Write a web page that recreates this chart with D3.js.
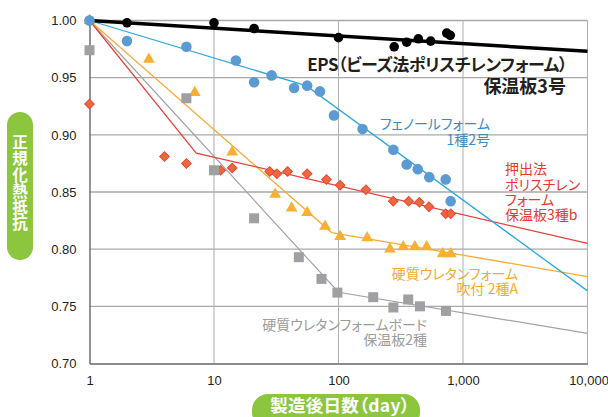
<!DOCTYPE html>
<html><head><meta charset="utf-8">
<script src="https://cdn.jsdelivr.net/npm/d3@7/dist/d3.min.js"></script>
<style>
html,body{margin:0;padding:0;background:#fff;}
svg{display:block;}
.jp{font-feature-settings:"palt" 1;}
</style></head>
<body>
<svg id="chart" width="608" height="417"></svg>
<script>
// ---- data ----
const xTicks = [1, 10, 100, 1000, 10000];
const yTicks = [0.70, 0.75, 0.80, 0.85, 0.90, 0.95, 1.00];

const epsPoints = [[1,1.0],[2,0.998],[10,0.998],[21,0.993],[100,0.985],[280,0.977],[353,0.981],[438,0.984],[550,0.982],[740,0.989],[790,0.987]];
const epsLine = [[1,1.0],[10000,0.973]];

const phenolPoints = [[1,1.0],[2,0.982],[6,0.977],[15,0.965],[21,0.946],[29,0.952],[44,0.941],[56,0.943],[71,0.938],[92,0.917],[156,0.905],[276,0.887],[353,0.874],[433,0.870],[536,0.863],[726,0.861],[796,0.842]];
const phenolLine = [[1,1.0],[55,0.943],[10000,0.7635]];

const xpsPoints = [[1,0.927],[4,0.881],[6,0.875],[11.3,0.869],[14,0.871],[28,0.868],[32,0.866],[39,0.868],[56,0.866],[80,0.861],[103,0.856],[166,0.852],[275,0.842],[366,0.842],[446,0.841],[533,0.837],[726,0.831],[797,0.831]];
const xpsLine = [[1,1.0],[7.2,0.884],[10000,0.805]];

const sprayPoints = [[1,1.0],[3,0.966],[7,0.937],[14,0.885],[31,0.848],[42,0.836],[56,0.832],[78,0.820],[103,0.811],[170,0.810],[259,0.800],[331,0.802],[411,0.802],[511,0.802],[687,0.796],[797,0.796]];
const sprayLine = [[1,1.0],[88,0.8145],[10000,0.776]];

const boardPoints = [[1,0.974],[6,0.932],[10,0.869],[21,0.827],[48,0.793],[73,0.774],[98,0.762],[190,0.758],[276,0.749],[363,0.756],[451,0.750],[730,0.746]];
const boardLine = [[1,1.0],[100,0.7623],[10000,0.7264]];

const epsLabel = ["EPS（ビーズ法ポリスチレンフォーム）", "保温板3号"];
const phenolLabel = ["フェノールフォーム", "1種2号"];
const xpsLabel = ["押出法", "ポリスチレン", "フォーム", "保温板3種b"];
const sprayLabel = ["硬質ウレタンフォーム", "吹付 2種A"];
const boardLabel = ["硬質ウレタンフォームボード", "保温板2種"];

// ---- layout ----
const svg = d3.select("#chart");
const x = d3.scaleLog().domain([1, 10000]).range([89.5, 587.5]);
const y = d3.scaleLinear().domain([0.70, 1.00]).range([363.5, 20.5]);
const NUM = "'Liberation Sans', Arial, sans-serif";
const JP = "'Noto Sans CJK JP', sans-serif";

// gridlines
const g = svg.append("g");
g.selectAll("line.h").data(yTicks.filter(v => v > 0.70)).enter().append("line")
  .attr("x1", x(1)).attr("x2", x(10000))
  .attr("y1", d => y(d)).attr("y2", d => y(d))
  .attr("stroke", "#a9a9a9").attr("stroke-width", 1.4);
g.selectAll("line.v").data(xTicks.filter(v => v > 1)).enter().append("line")
  .attr("y1", y(1.0)).attr("y2", y(0.70))
  .attr("x1", d => x(d)).attr("x2", d => x(d))
  .attr("stroke", "#b3b3b3").attr("stroke-width", 1.1);

// axes
const xAxis = d3.axisBottom(x).tickValues(xTicks).tickFormat(d3.format(",")).tickSize(0).tickPadding(12);
const yAxis = d3.axisLeft(y).tickValues(yTicks).tickFormat(d3.format(".2f")).tickSize(0).tickPadding(13);
const gx = svg.append("g").attr("transform", `translate(0,${y(0.70)})`).call(xAxis);
const gy = svg.append("g").attr("transform", `translate(${x(1)},0)`).call(yAxis);
[gx, gy].forEach(a => {
  a.select(".domain").attr("stroke", "#666").attr("stroke-width", 1.4);
  a.selectAll("text").attr("font-family", NUM).attr("font-size", 13).attr("fill", "#231f20");
});
gx.selectAll(".tick").filter(d => d === 10000).select("text").attr("dx", 1);

// fit lines
const line = d3.line().x(d => x(d[0])).y(d => y(d[1]));
const lines = [
  {d: boardLine, c: "#a3a3a3", w: 1.2},
  {d: sprayLine, c: "#f6ad3a", w: 1.3},
  {d: xpsLine, c: "#e8403a", w: 1.2},
  {d: phenolLine, c: "#2aa9e0", w: 1.3},
  {d: epsLine, c: "#000", w: 3.5}
];
lines.forEach(l => svg.append("path").attr("d", line(l.d)).attr("fill", "none")
  .attr("stroke", l.c).attr("stroke-width", l.w));

// markers
svg.append("g").selectAll("path").data(xpsPoints).enter().append("path")
  .attr("d", d3.symbol(d3.symbolSquare, 46)())
  .attr("transform", d => `translate(${x(d[0])},${y(d[1])}) rotate(45)`)
  .attr("fill", "#ea6a3b").attr("stroke", "#f0443a").attr("stroke-width", 1);
svg.append("g").selectAll("path").data(sprayPoints).enter().append("path")
  .attr("d", d3.symbol(d3.symbolTriangle, 60)())
  .attr("transform", d => `translate(${x(d[0])},${y(d[1])})`)
  .attr("fill", "#f7b032");
svg.append("g").selectAll("rect").data(boardPoints).enter().append("rect")
  .attr("x", d => x(d[0]) - 5).attr("y", d => y(d[1]) - 5)
  .attr("width", 10).attr("height", 10).attr("fill", "#a0a0a4");
svg.append("g").selectAll("circle").data(epsPoints).enter().append("circle")
  .attr("cx", d => x(d[0])).attr("cy", d => y(d[1])).attr("r", 4.8).attr("fill", "#000");
svg.append("g").selectAll("circle").data(phenolPoints).enter().append("circle")
  .attr("cx", d => x(d[0])).attr("cy", d => y(d[1])).attr("r", 5.3).attr("fill", "#5b9bd2");

// multi-line labels: one text element, one tspan per line
function label(lines, spec) {
  const t = svg.append("text").attr("class", "jp")
    .attr("font-family", JP).attr("fill", spec.color)
    .attr("font-weight", spec.bold ? 700 : 400)
    .attr("text-anchor", spec.anchor || "start");
  lines.forEach((s, i) => {
    const ln = spec.lines[i];
    t.append("tspan").attr("x", ln.x).attr("y", ln.y)
      .attr("font-size", ln.size || spec.size)
      .attr("letter-spacing", ln.ls || 0)
      .attr("text-anchor", ln.anchor || spec.anchor || "start")
      .text(s);
  });
}
label(epsLabel, {color: "#231f20", bold: true, anchor: "end",
  lines: [{x: 567, y: 71, size: 17, ls: -0.45}, {x: 566, y: 93, size: 18}]});
label(phenolLabel, {color: "#3a8cc6", size: 14, anchor: "end",
  lines: [{x: 490, y: 129}, {x: 490, y: 145}]});
label(xpsLabel, {color: "#e8382f", size: 14,
  lines: [{x: 505, y: 174}, {x: 505, y: 190}, {x: 505, y: 205}, {x: 505, y: 220}]});
label(sprayLabel, {color: "#f5a933", size: 14, anchor: "end",
  lines: [{x: 518, y: 279}, {x: 518, y: 294}]});
label(boardLabel, {color: "#9c9c9c", size: 14, anchor: "end",
  lines: [{x: 427, y: 330}, {x: 427, y: 345}]});

// axis title pills
const green = "#8cc63f";
svg.append("rect").attr("x", 7).attr("y", 112).attr("width", 26).attr("height", 148)
  .attr("rx", 13).attr("fill", green);
svg.append("text").attr("x", 20).attr("y", 134.5)
  .attr("writing-mode", "vertical-rl").style("text-orientation", "upright")
  .attr("letter-spacing", 0.7)
  .attr("font-family", JP).attr("font-weight", 700)
  .attr("font-size", 15.5).attr("fill", "#fff").text("正規化熱抵抗");

svg.append("rect").attr("x", 252).attr("y", 394).attr("width", 168).attr("height", 34)
  .attr("rx", 16).attr("fill", green);
svg.append("text").attr("class", "jp").attr("x", 340).attr("y", 412)
  .attr("text-anchor", "middle").attr("letter-spacing", 0.3)
  .attr("font-family", JP).attr("font-weight", 700)
  .attr("font-size", 17.5).attr("fill", "#fff").text("製造後日数（day）");
</script>
</body></html>
